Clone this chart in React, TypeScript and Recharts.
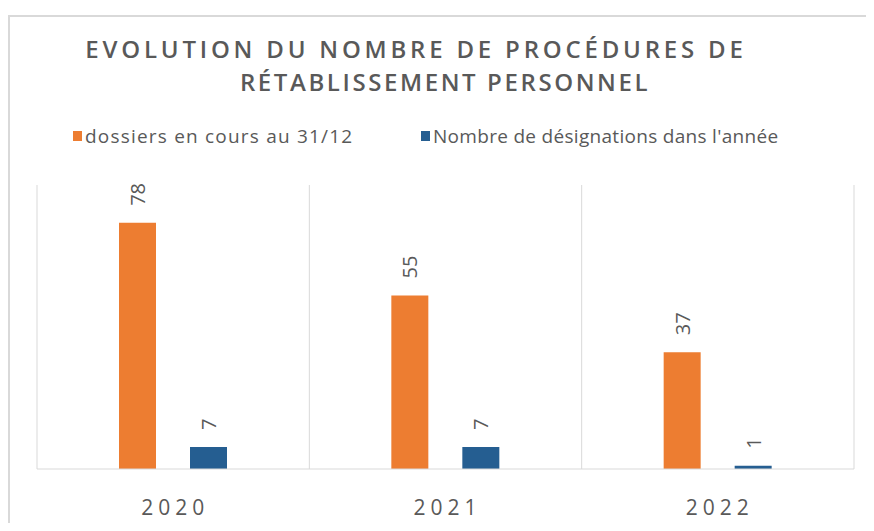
import React from "react"
import { Bar, BarChart, CartesianGrid, LabelList, XAxis, YAxis } from "recharts"

const years = ["2020", "2021", "2022"]
const dossiersEnCours = [78, 55, 37]
const designations = [7, 7, 1]

const titleLines = [
  { text: "EVOLUTION DU NOMBRE DE PROCÉDURES DE", center: 416 },
  { text: "RÉTABLISSEMENT PERSONNEL", center: 445 },
]

const series = [
  { key: "dossiers", name: "dossiers en cours au 31/12", color: "#ED7D31", legendX: 73, spacing: 1.2 },
  { key: "designations", name: "Nombre de désignations dans l'année", color: "#255E91", legendX: 421, spacing: 0.3 },
]

const data = years.map((year, i) => ({
  year,
  dossiers: dossiersEnCours[i],
  designations: designations[i],
}))

const TEXT = "#595959"
const FONT = "'Open Sans', sans-serif"

const VerticalLabel = (props: any) => {
  const { x, y, width, value } = props
  const cx = x + width / 2
  const cy = y - 17
  return (
    <text
      x={cx}
      y={cy}
      transform={`rotate(-90 ${cx} ${cy})`}
      textAnchor="start"
      dominantBaseline="central"
      fill={TEXT}
      fontSize={20}
      fontFamily={FONT}
    >
      {value}
    </text>
  )
}

const YearTick = (props: any) => {
  const { x, y, payload } = props
  return (
    <text
      x={x + 2}
      y={y + 30}
      textAnchor="middle"
      dominantBaseline="central"
      fill={TEXT}
      fontSize={21}
      fontFamily={FONT}
      letterSpacing={5}
    >
      {payload.value}
    </text>
  )
}

export default function App() {
  return (
    <div style={{ position: "relative", width: 866, height: 515, fontFamily: FONT }}>
      <div
        style={{
          position: "absolute",
          top: 7,
          left: 0,
          right: 0,
          bottom: 0,
          borderTop: "2px solid #d9d9d9",
          borderLeft: "2px solid #d9d9d9",
        }}
      />
      {titleLines.map((line, i) => (
        <div
          key={i}
          style={{
            position: "absolute",
            top: 24 + i * 33,
            left: line.center - 8 - 400,
            width: 800,
            textAlign: "center",
            color: TEXT,
            fontSize: 24,
            fontWeight: 600,
            letterSpacing: i === 0 ? 3.8 : 2.6,
            lineHeight: "33px",
            whiteSpace: "nowrap",
          }}
        >
          {line.text}
        </div>
      ))}
      {series.map((s) => (
        <div
          key={s.key}
          style={{
            position: "absolute",
            top: 115,
            left: s.legendX - 8,
            display: "flex",
            alignItems: "center",
            gap: 3,
            color: TEXT,
            fontSize: 19,
            letterSpacing: s.spacing,
          }}
        >
          <span style={{ width: 9, height: 10, background: s.color, display: "inline-block" }} />
          <span>{s.name}</span>
        </div>
      ))}
      <div style={{ position: "absolute", top: 0, left: 0 }}>
        <BarChart
          width={866}
          height={515}
          data={data}
          margin={{ top: 177, right: 20, bottom: 24, left: 29 }}
          barGap={34}
          barSize={37}
        >
          <CartesianGrid
            horizontal={false}
            stroke="#d9d9d9"
            verticalCoordinatesGenerator={({ offset }: any) => {
              const step = offset.width / years.length
              return years.map((_, i) => offset.left + step * i).concat(offset.left + offset.width)
            }}
          />
          <XAxis
            dataKey="year"
            axisLine={{ stroke: "#d9d9d9" }}
            tickLine={false}
            tick={<YearTick />}
            height={30}
          />
          <YAxis hide domain={[0, 90]} />
          {series.map((s) => (
            <Bar key={s.key} dataKey={s.key} name={s.name} fill={s.color} isAnimationActive={false}>
              <LabelList dataKey={s.key} content={<VerticalLabel />} />
            </Bar>
          ))}
        </BarChart>
      </div>
    </div>
  )
}
